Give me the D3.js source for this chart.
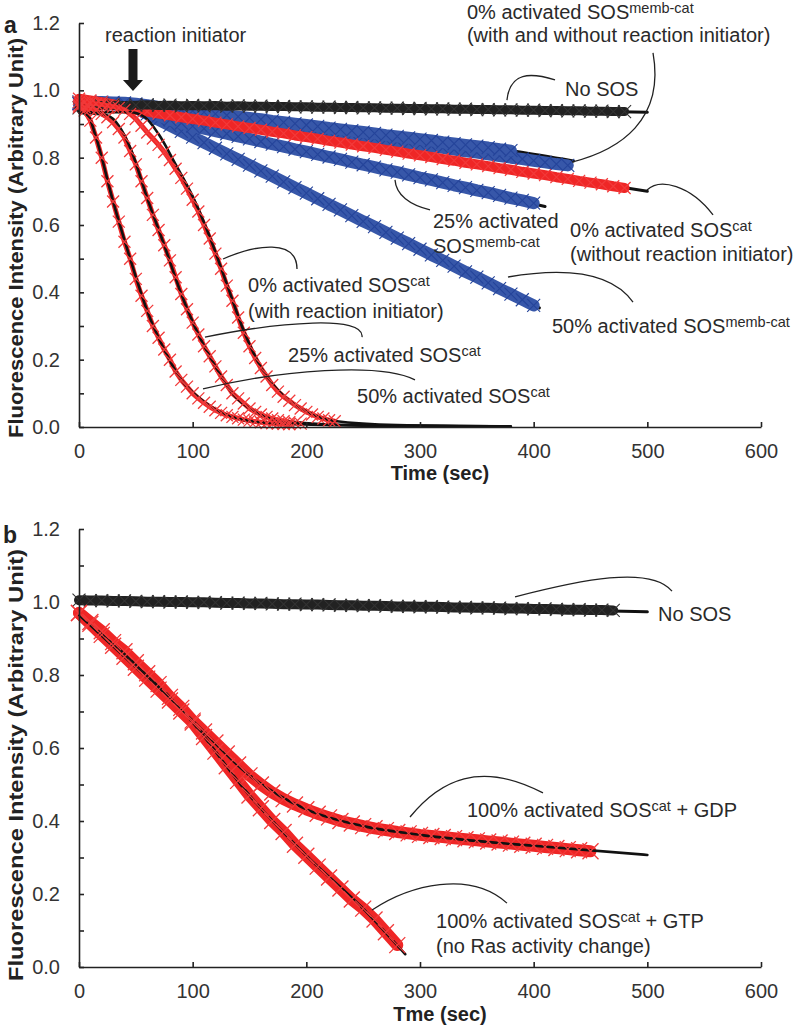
<!DOCTYPE html>
<html><head><meta charset="utf-8">
<script src="https://cdn.jsdelivr.net/npm/d3@7"></script>
<style>
body{margin:0;background:#fff;}
svg{display:block;font-family:"Liberation Sans",Arial,sans-serif;}
</style></head><body>
<svg id="chart" width="800" height="1027"></svg>
<script>
// ---------- sampling grids (seconds) ----------
const grid10 = [0,10,20,30,40,50,60,70,80,90,100,110,120,130,140,150,160,170,180,190,200,210,220,230,240,250,260,270,280,290,300,310,320,330,340,350,360,370,380,390,400,410,420,430,440,450,460,470,480,490,500];
const grid5 = [0,5,10,15,20,25,30,35,40,45,50,55,60,65,70,75,80,85,90,95,100,105,110,115,120,125,130,135,140,145,150,155,160,165,170,175,180,185,190,195,200,205,210,215,220,225];
const xTicks = [0,100,200,300,400,500,600];
const yTicks = [0,0.1,0.2,0.3,0.4,0.5,0.6,0.7,0.8,0.9,1.0,1.1,1.2];

// ---------- panel a data ----------
const noSosA = [0.948,0.952,0.955,0.956,0.955,0.956,0.957,0.955,0.956,0.954,
 0.955,0.954,0.955,0.953,0.954,0.953,0.953,0.952,0.952,0.951,
 0.951,0.950,0.950,0.949,0.949,0.948,0.948,0.947,0.947,0.946,
 0.946,0.945,0.945,0.944,0.944,0.943,0.943,0.942,0.942,0.941,
 0.941,0.940,0.940,0.939,0.939,0.938,0.938,0.937,0.937];
const membCat0With = [0.966,0.965,0.965,0.964,0.963,0.960,0.956,0.951,0.947,0.943,0.939,0.935,0.930,0.926,0.922,0.918,0.914,0.909,0.905,0.901,0.897,0.893,0.888,0.884,0.880,0.876,0.872,0.867,0.863,0.859,0.855,0.851,0.846,0.842,0.838,0.834,0.830,0.825,0.821];
const membCat0Without = [0.962,0.962,0.961,0.960,0.959,0.957,0.952,0.948,0.943,0.938,0.933,0.929,0.924,0.919,0.914,0.910,0.905,0.900,0.895,0.891,0.886,0.881,0.876,0.872,0.867,0.862,0.857,0.853,0.848,0.843,0.838,0.834,0.829,0.824,0.819,0.815,0.810,0.805,0.800,0.796,0.791,0.786,0.781,0.777];
const membCat25 = [0.962,0.962,0.961,0.960,0.958,0.952,0.938,0.925,0.913,0.903,0.894,0.886,0.879,0.871,0.863,0.856,0.848,0.840,0.833,0.825,0.818,0.810,0.802,0.795,0.787,0.779,0.772,0.764,0.757,0.749,0.741,0.734,0.726,0.718,0.711,0.703,0.696,0.688,0.680,0.673,0.665];
const membCat50 = [0.960,0.960,0.959,0.958,0.956,0.948,0.930,0.912,0.895,0.878,0.861,0.845,0.828,0.811,0.795,0.778,0.761,0.745,0.728,0.711,0.695,0.678,0.661,0.645,0.628,0.611,0.595,0.578,0.561,0.545,0.528,0.511,0.495,0.478,0.461,0.445,0.428,0.411,0.395,0.378,0.361];
const cat0NoInit = [0.975,0.970,0.965,0.958,0.950,0.942,0.937,0.931,0.926,0.920,0.915,0.910,0.904,0.899,0.893,0.888,0.883,0.877,0.872,0.866,0.861,0.856,0.850,0.845,0.839,0.834,0.829,0.823,0.818,0.812,0.807,0.802,0.796,0.791,0.785,0.780,0.775,0.769,0.764,0.758,0.753,0.748,0.742,0.737,0.731,0.726,0.721,0.715,0.710];
const cat50 = [0.95,0.94,0.91,0.86,0.80,0.73,0.67,0.61,0.55,0.50,0.44,0.39,0.345,0.30,0.265,0.23,0.20,0.165,0.14,0.12,0.10,0.085,0.072,0.06,0.05,0.042,0.035,0.03,0.026,0.022,0.019,0.016,0.014,0.012,0.011,0.01,0.009,0.008];
const cat25 = [0.955,0.95,0.945,0.94,0.93,0.92,0.905,0.885,0.86,0.82,0.78,0.73,0.68,0.63,0.585,0.54,0.495,0.445,0.395,0.35,0.31,0.275,0.24,0.21,0.18,0.15,0.125,0.10,0.085,0.07,0.055,0.045,0.037,0.03,0.025,0.02,0.017,0.014,0.012,0.01];
const cat0Init = [0.965,0.965,0.962,0.96,0.958,0.955,0.952,0.948,0.942,0.93,0.915,0.895,0.875,0.857,0.838,0.817,0.793,0.767,0.74,0.708,0.675,0.64,0.60,0.56,0.515,0.47,0.42,0.375,0.325,0.28,0.24,0.205,0.175,0.15,0.125,0.105,0.09,0.078,0.065,0.055,0.045,0.037,0.03,0.025,0.02,0.017];

// fitted curves, panel a: [time, value]
const fitNoSosA = [[0,0.952],[100,0.954],[200,0.950],[300,0.946],[400,0.941],[500,0.935]];
const fitMemb0 = [[0,0.963],[50,0.959],[200,0.892],[385,0.818],[435,0.790]];
const fitMemb25 = [[0,0.960],[50,0.954],[100,0.894],[250,0.779],[410,0.655]];
const fitMemb50 = [[0,0.958],[50,0.950],[90,0.878],[250,0.611],[405,0.354]];
const fitCat0NoInit = [[0,0.960],[50,0.942],[250,0.834],[500,0.700]];
const fitCat50 = [[0,0.935],[8,0.925],[15,0.86],[30,0.67],[45,0.50],[60,0.345],[75,0.23],[90,0.14],[110,0.075],[135,0.03],[170,0.011],[250,0.004],[350,0.002]];
const fitCat25 = [[0,0.935],[25,0.925],[35,0.895],[45,0.83],[60,0.68],[75,0.54],[90,0.395],[105,0.275],[120,0.18],[135,0.10],[155,0.045],[180,0.017],[250,0.005],[370,0.002]];
const fitCat0Init = [[0,0.935],[45,0.935],[58,0.92],[70,0.87],[85,0.78],[100,0.685],[115,0.565],[130,0.425],[145,0.285],[160,0.178],[180,0.092],[200,0.046],[225,0.018],[280,0.006],[380,0.002]];

// ---------- panel b data ----------
const noSosB = [1.005,1.004,1.004,1.003,1.003,1.002,1.001,1.001,1.000,1.000,
 0.999,0.999,0.998,0.997,0.997,0.996,0.996,0.995,0.994,0.994,
 0.993,0.993,0.992,0.991,0.991,0.990,0.990,0.989,0.988,0.988,
 0.987,0.987,0.986,0.985,0.985,0.984,0.984,0.983,0.982,0.982,
 0.981,0.981,0.980,0.979,0.979,0.978,0.978,0.977];
const catGDP = [0.97,0.945,0.92,0.89,0.865,0.835,0.805,0.775,0.74,0.71,0.675,0.645,0.615,0.585,0.555,0.525,0.50,0.478,0.46,0.445,0.432,0.42,0.41,0.40,0.393,0.386,0.38,0.375,0.37,0.366,0.362,0.359,0.356,0.353,0.35,0.347,0.344,0.341,0.338,0.335,0.332,0.329,0.326,0.323,0.32,0.317];
const catGTP = [0.97,0.94,0.91,0.88,0.85,0.82,0.79,0.76,0.73,0.70,0.67,0.63,0.59,0.55,0.51,0.47,0.435,0.40,0.37,0.335,0.305,0.275,0.245,0.215,0.185,0.16,0.13,0.095,0.06];
const fitNoSosB = [[0,1.003],[250,0.990],[500,0.973]];
const fitGDP = [[0,0.965],[100,0.675],[150,0.525],[200,0.432],[250,0.386],[300,0.362],[400,0.332],[500,0.307]];
const fitGTP = [[0,0.965],[100,0.67],[150,0.47],[200,0.305],[250,0.16],[287,0.035]];

// ---------- annotations (data coordinates) ----------
const labelsA = [
  {t:22.9, v:1.1436, parts:[["reaction initiator"]]},
  {t:341.3, v:1.212, parts:[["0% activated SOS"],["memb-cat","sup"]]},
  {t:341.3, v:1.1436, parts:[["(with and without reaction initiator)"]]},
  {t:427.6, v:0.983, parts:[["No SOS"]]},
  {t:311.4, v:0.591, parts:[["25% activated"]]},
  {t:311.4, v:0.517, parts:[["SOS"],["memb-cat","sup"]]},
  {t:432.0, v:0.564, parts:[["0% activated SOS"],["cat","sup"]]},
  {t:432.0, v:0.493, parts:[["(without reaction initiator)"]]},
  {t:416.1, v:0.279, parts:[["50% activated SOS"],["memb-cat","sup"]]},
  {t:148.7, v:0.401, parts:[["0% activated SOS"],["cat","sup"]]},
  {t:148.7, v:0.324, parts:[["(with reaction initiator)"]]},
  {t:183.9, v:0.193, parts:[["25% activated SOS"],["cat","sup"]]},
  {t:244.6, v:0.0713, parts:[["50% activated SOS"],["cat","sup"]]}
];
const leadersA = [
  [[376.5,0.971],[379.2,1.054],[396.8,1.054],[418.8,1.031]],
  [[433.7,0.787],[475.9,0.823],[515.5,0.912],[505.0,1.111]],
  [[278.0,0.734],[278.9,0.689],[291.2,0.659],[308.8,0.645]],
  [[499.7,0.704],[511.1,0.740],[537.5,0.719],[557.8,0.630]],
  [[377.4,0.4455],[423.2,0.472],[467.2,0.466],[487.4,0.371]],
  [[126.7,0.499],[154.8,0.541],[191.8,0.561],[191.8,0.469]],
  [[110.8,0.267],[176.8,0.312],[251.6,0.333],[249.0,0.267]],
  [[109.1,0.113],[176.8,0.169],[264.8,0.193],[295.6,0.140]]
];
const arrowA = {t:47.5, top:1.123, tip:0.998};
const labelsB = [
  {t:509.4, v:0.948, parts:[["No SOS"]]},
  {t:341.3, v:0.411, parts:[["100% activated SOS"],["cat","sup"],[" + GDP","base"]]},
  {t:314.1, v:0.107, parts:[["100% activated SOS"],["cat","sup"],[" + GTP","base"]]},
  {t:314.1, v:0.038, parts:[["(no Ras activity change)"]]}
];
const leadersB = [
  [[383.6,1.014],[440.7,1.060],[502.3,1.101],[521.7,1.030]],
  [[291.2,0.411],[317.6,0.512],[352.8,0.567],[408.2,0.477]],
  [[257.8,0.156],[291.2,0.225],[344.0,0.266],[376.5,0.175]]
];

// ---------- styles ----------
const BLUE = "#3757a9", BLUE_M = "#25449a", RED = "#ef2626", RED_M = "#f23a3a", BLACK = "#222";
const svg = d3.select("#chart");

function pts(grid, vals){ return vals.map((v,i)=>[grid[i], v]); }

function axes(g, x, y, xTitle, titleCenter, titleLen){
  const ya = d3.axisLeft(y).tickValues(yTicks).tickSize(-5).tickSizeOuter(0).tickPadding(19)
    .tickFormat(d => Math.round(d*10)%2===0 ? d3.format(".1f")(d) : "");
  const xa = d3.axisBottom(x).tickValues(xTicks).tickSize(-5).tickSizeOuter(0).tickPadding(17)
    .tickFormat(d3.format("d"));
  const gy = g.append("g").attr("transform",`translate(${x(0)},0)`).call(ya);
  const gx = g.append("g").attr("transform",`translate(0,${y(0)})`).call(xa);
  [gx,gy].forEach(a=>{
    a.selectAll("path,line").attr("stroke","#222").attr("stroke-width",1.6);
    a.selectAll("text").attr("fill","#333").attr("font-size",20)
      .attr("font-family","'Liberation Sans',Arial,sans-serif");
  });
  g.append("text").attr("x", 440).attr("y", y(0)+ (xTitle==="Time (sec)"?53:54))
    .attr("text-anchor","middle").attr("font-weight","bold").attr("font-size",20).attr("fill","#222").text(xTitle);
  g.append("text").attr("transform",`translate(23,${titleCenter}) rotate(-90)`)
    .attr("text-anchor","middle").attr("font-weight","bold").attr("font-size",20).attr("fill","#222")
    .attr("textLength", titleLen).attr("lengthAdjust","spacingAndGlyphs")
    .text("Fluorescence Intensity (Arbitrary Unit)");
}

function band(g, data, x, y, color, w){
  g.append("path").datum(data).attr("fill","none").attr("stroke",color).attr("stroke-width",w)
    .attr("stroke-linejoin","round").attr("stroke-linecap","round")
    .attr("d", d3.line().x(d=>x(d[0])).y(d=>y(d[1])));
}
function fit(g, data, x, y, w){
  g.append("path").datum(data).attr("fill","none").attr("stroke","#111").attr("stroke-width",w||2.6)
    .attr("stroke-linecap","round")
    .attr("d", d3.line().x(d=>x(d[0])).y(d=>y(d[1])).curve(d3.curveMonotoneX));
}
function markers(g, data, x, y, color, s, sw){
  g.append("g").selectAll("path").data(data).join("path")
    .attr("transform", d=>`translate(${x(d[0])},${y(d[1])})`)
    .attr("d", `M${-s},${-s}L${s},${s}M${-s},${s}L${s},${-s}`)
    .attr("stroke", color).attr("stroke-width", sw).attr("fill","none");
}
function labels(g, list, x, y){
  list.forEach(l=>{
    const t = g.append("text").attr("x", x(l.t)).attr("y", y(l.v)).attr("font-size",20).attr("fill","#2a2a2a");
    let raised = false;
    l.parts.forEach(p=>{
      const ts = t.append("tspan").text(p[0]);
      if (p[1]==="sup"){ ts.attr("font-size",14.5).attr("dy",-6); raised = true; }
      else if (p[1]==="base" && raised){ ts.attr("dy",6); raised = false; }
    });
  });
}
function leaders(g, list, x, y){
  list.forEach(c=>{
    const p = d3.path();
    p.moveTo(x(c[0][0]), y(c[0][1]));
    p.bezierCurveTo(x(c[1][0]), y(c[1][1]), x(c[2][0]), y(c[2][1]), x(c[3][0]), y(c[3][1]));
    g.append("path").attr("d", p.toString()).attr("fill","none").attr("stroke","#222").attr("stroke-width",1.3);
  });
}

// ================= Panel a =================
{
  const x = d3.scaleLinear([0,600],[79,761]);
  const y = d3.scaleLinear([0,1.2],[427,23]);
  const g = svg.append("g");
  g.append("text").attr("x",4).attr("y",33).attr("font-weight","bold").attr("font-size",23).attr("fill","#222").text("a");

  // fits hidden under bands
  [fitMemb0, fitMemb25, fitMemb50, fitNoSosA, fitCat0NoInit].forEach(f=>fit(g,f,x,y,3));

  const m50 = pts(grid10, membCat50), m25 = pts(grid10, membCat25);
  const m0w = pts(grid10, membCat0With), m0n = pts(grid10, membCat0Without);
  [m50, m25, m0n, m0w].forEach(d=>{ band(g,d,x,y,BLUE,12); markers(g,d,x,y,BLUE_M,6.5,1.1); });

  const slow = pts(grid10, cat0NoInit);
  band(g, slow, x, y, RED, 10); markers(g, slow, x, y, RED_M, 6, 1.2);

  const ns = pts(grid10, noSosA);
  band(g, ns, x, y, BLACK, 9); markers(g, ns, x, y, "#333", 6.5, 1.1);

  const f50 = pts(grid5, cat50), f25 = pts(grid5, cat25), f0 = pts(grid5, cat0Init);
  [f50, f25, f0].forEach(d=>band(g,d,x,y,RED,5));
  [fitCat50, fitCat25, fitCat0Init].forEach(f=>fit(g,f,x,y,2.6));
  [f50, f25, f0].forEach(d=>markers(g,d,x,y,RED_M,6,1.3));

  axes(g, x, y, "Time (sec)", 238, 400);
  leaders(g, leadersA, x, y);
  labels(g, labelsA, x, y);

  // reaction initiator arrow
  const ax = x(arrowA.t), y1 = y(arrowA.top), y2 = y(arrowA.tip), yh = y2 - 11;
  g.append("path").attr("d", `M${ax-4.5},${y1}H${ax+4.5}V${yh}H${ax+10}L${ax},${y2}L${ax-10},${yh}H${ax-4.5}Z`)
    .attr("fill","#1a1a1a");
}

// ================= Panel b =================
{
  const x = d3.scaleLinear([0,600],[79,761]);
  const y = d3.scaleLinear([0,1.2],[967,529]);
  const g = svg.append("g");
  g.append("text").attr("x",3).attr("y",543).attr("font-weight","bold").attr("font-size",23).attr("fill","#222").text("b");

  fit(g, fitNoSosB, x, y, 3);
  const ns = pts(grid10, noSosB);
  band(g, ns, x, y, BLACK, 10); markers(g, ns, x, y, "#333", 6.5, 1.1);

  const gdp = pts(grid10, catGDP), gtp = pts(grid10, catGTP);
  [gdp, gtp].forEach(d=>band(g,d,x,y,RED,12));
  fit(g, fitGDP, x, y, 2.6); fit(g, fitGTP, x, y, 2.6);
  [gdp, gtp].forEach(d=>markers(g,d,x,y,RED_M,8,1.3));

  axes(g, x, y, "Tme (sec)", 765, 432);
  leaders(g, leadersB, x, y);
  labels(g, labelsB, x, y);
}
</script></body></html>
